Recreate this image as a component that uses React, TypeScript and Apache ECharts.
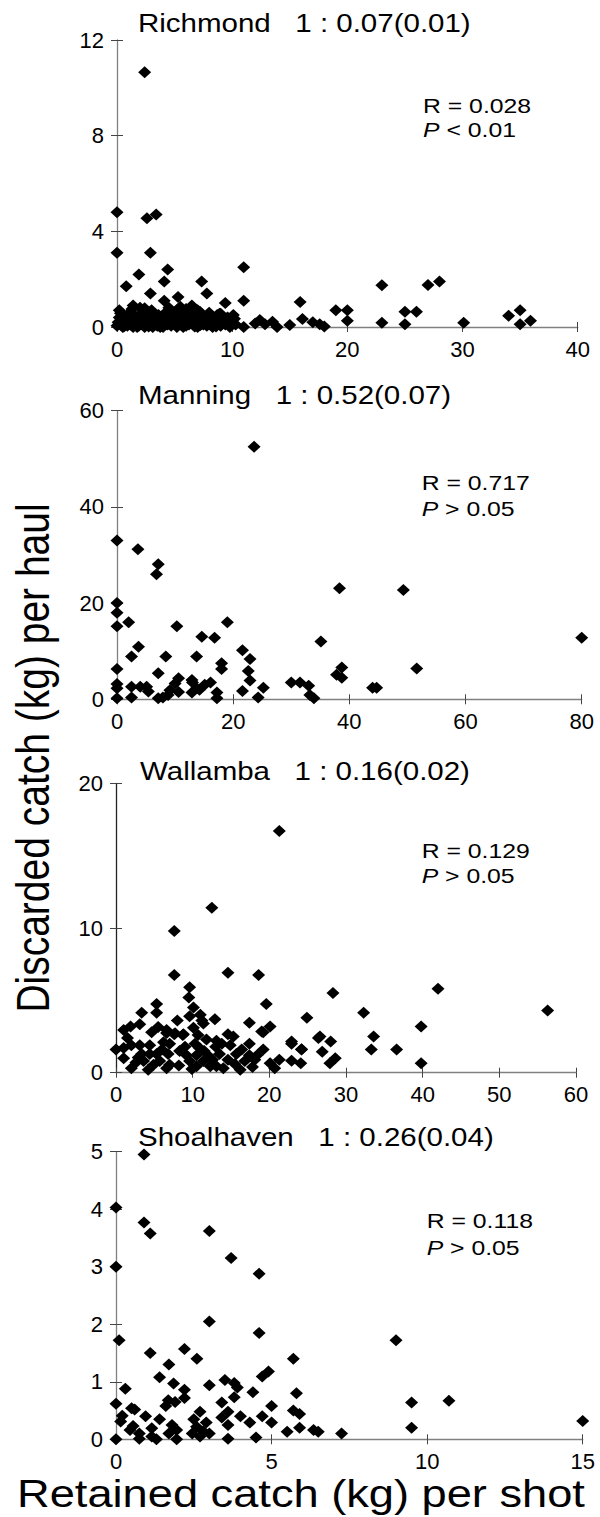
import React, { useEffect, useRef } from "react";
import * as echarts from "echarts";

const FONT = "'Liberation Sans', Arial, Helvetica, sans-serif";

// ---------- DATA ----------
const richmondPoints: number[][] = [
  [2.4, 10.65], [0, 4.8], [0, 3.1], [2.6, 4.55], [3.4, 4.7], [2.9, 3.1], [4.4, 2.4], [1.9, 2.2],
  [0.8, 1.7], [4.1, 1.9], [2.9, 1.4], [4.1, 1.1], [5.3, 1.25], [7.35, 1.9], [7.8, 1.4], [1.4, 0.9],
  [6.5, 0.9], [9.4, 1.0], [10.1, 0.5], [11.0, 2.5], [11.0, 1.1], [11.0, 0.0], [15.9, 1.05], [16.1, 0.33],
  [15.0, 0.08], [17.0, 0.2], [17.6, 0.12], [18.0, 0.02], [19.0, 0.7], [20.0, 0.7], [20.0, 0.26],
  [23.0, 1.75], [23.0, 0.18], [25.0, 0.12], [25.0, 0.64], [26.0, 0.64], [27.0, 1.76], [28.0, 1.9],
  [30.1, 0.18], [34.0, 0.47], [35.0, 0.7], [35.0, 0.12], [35.9, 0.26], [12.0, 0.15], [12.4, 0.29],
  [12.85, 0.12], [13.5, 0.22], [13.9, 0.0], [2.4, 0.78], [5.3, 0.74], [0.3, 0.57], [7.2, 0.64], [8.9, 0.55],
  [0.0, 0.05], [0.1, 0.2], [0.2, 0.4], [0.3, 0.1], [0.4, 0.3], [0.5, 0.0], [0.6, 0.15], [0.7, 0.45],
  [0.8, 0.25], [0.9, 0.05], [1.0, 0.35], [1.1, 0.6], [1.2, 0.1], [1.3, 0.2], [1.4, 0.0], [1.5, 0.5],
  [1.6, 0.3], [1.7, 0.15], [1.8, 0.4], [1.9, 0.05], [2.0, 0.25], [2.1, 0.55], [2.2, 0.1], [2.3, 0.35],
  [2.4, 0.0], [2.5, 0.2], [2.6, 0.45], [2.7, 0.3], [2.8, 0.1], [2.9, 0.6], [3.0, 0.2], [3.1, 0.0],
  [3.2, 0.4], [3.3, 0.15], [3.4, 0.3], [3.5, 0.05], [3.6, 0.5], [3.7, 0.25], [3.8, 0.1], [3.9, 0.4],
  [4.0, 0.0], [4.1, 0.2], [4.2, 0.6], [4.3, 0.3], [4.4, 0.1], [4.5, 0.45], [4.6, 0.2], [4.7, 0.05],
  [4.8, 0.35], [4.9, 0.15], [5.0, 0.55], [5.1, 0.25], [5.2, 0.0], [5.3, 0.4], [5.5, 0.1], [5.6, 0.3],
  [5.8, 0.5], [5.9, 0.15], [6.0, 0.05], [6.2, 0.35], [6.3, 0.2], [6.5, 0.6], [6.6, 0.1], [6.8, 0.3],
  [7.0, 0.0], [7.1, 0.45], [7.3, 0.2], [7.5, 0.1], [7.6, 0.35], [7.8, 0.05], [8.0, 0.25], [8.2, 0.4],
  [8.3, 0.0], [8.5, 0.15], [8.7, 0.5], [8.9, 0.2], [9.0, 0.05], [9.2, 0.3], [9.4, 0.1], [9.6, 0.4],
  [9.8, 0.0], [10.0, 0.2], [10.3, 0.1], [0.2, 0.7], [1.3, 0.75], [3.0, 0.7], [4.5, 0.8], [6.0, 0.75],
  [7.0, 0.7], [8.0, 0.6], [9.0, 0.55], [2.0, 0.8], [5.5, 0.85], [0.6, 0.02], [1.05, 0.12], [1.75, 0.0],
  [2.25, 0.18], [2.75, 0.02], [3.25, 0.08], [3.75, 0.0], [4.25, 0.12], [4.75, 0.2], [5.25, 0.08],
  [5.75, 0.0], [6.25, 0.1], [6.75, 0.02], [7.25, 0.08], [7.75, 0.2], [8.1, 0.1], [8.6, 0.02], [9.1, 0.15],
  [9.7, 0.22], [10.2, 0.35],
];

const manningPoints: number[][] = [
  [23.6, 52.5], [0, 33.0], [3.6, 31.2], [7.1, 28.1], [6.8, 26.0], [38.3, 23.1], [49.3, 22.7],
  [0, 20.0], [0, 18.0], [0, 15.2], [2.0, 16.0], [10.3, 15.2], [19.0, 16.0], [14.6, 13.0], [16.8, 12.8],
  [35.1, 12.0], [80.0, 12.8], [3.7, 10.9], [2.5, 8.9], [8.4, 8.9], [13.7, 8.9], [21.6, 10.2], [22.9, 8.4],
  [18.0, 7.5], [18.0, 6.3], [22.6, 5.9], [0, 6.3], [7.1, 5.4], [10.6, 4.4], [10.0, 3.3], [12.9, 4.0],
  [0, 3.2], [0, 2.3], [0, 0.2], [2.5, 2.6], [4.0, 2.6], [5.1, 2.6], [5.4, 1.6], [2.5, 0.4], [7.1, 0.2],
  [7.9, 0.4], [8.8, 0.9], [9.1, 1.9], [10.6, 1.5], [12.9, 1.4], [13.0, 3.5], [13.7, 2.3], [14.2, 2.0],
  [15.1, 3.0], [16.1, 3.5], [17.2, 1.4], [17.2, 0.2], [21.6, 1.7], [22.9, 3.9], [24.3, 0.4], [25.2, 2.4],
  [30.0, 3.5], [31.5, 3.5], [33.0, 2.8], [33.2, 0.9], [33.9, 0.2], [37.8, 5.1], [38.7, 6.6], [38.7, 4.5],
  [44.0, 2.4], [44.7, 2.4], [51.6, 6.4],
];

const wallambaPoints: number[][] = [
  [21.3, 16.7], [12.5, 11.4], [7.6, 9.8], [7.6, 6.75], [14.6, 6.9], [18.6, 6.75], [42.0, 5.8], [28.3, 5.5],
  [56.3, 4.3], [9.6, 5.9], [9.5, 5.2], [10.1, 4.5], [5.3, 4.75], [5.3, 4.15], [3.35, 4.15], [19.6, 4.75],
  [9.6, 3.9], [11.0, 4.0], [11.4, 3.4], [12.9, 3.7], [17.4, 3.45], [24.9, 3.8], [32.3, 4.15], [39.8, 3.2],
  [33.6, 2.5], [33.3, 1.6], [36.6, 1.6], [39.8, 0.65], [26.6, 2.5], [28.0, 2.15], [26.9, 1.45], [28.6, 1.0],
  [27.9, 0.65], [22.9, 2.0], [24.2, 1.6], [22.9, 0.83], [24.1, 0.65], [21.3, 0.9], [20.7, 0.3], [20.1, 3.2],
  [19.2, 2.8], [19.2, 1.6], [17.4, 2.0], [15.3, 2.5], [14.6, 2.65], [13.1, 2.2], [13.8, 2.0], [13.0, 1.8],
  [10.7, 2.6], [10.3, 2.0], [8.8, 2.65], [7.6, 2.65], [6.6, 2.75], [5.5, 3.15], [4.65, 2.8], [3.1, 3.35],
  [1.9, 3.2], [1.0, 2.95], [0, 1.6], [1.0, 1.7], [1.0, 1.0], [2.0, 1.9], [2.0, 0.3], [3.1, 1.9], [3.35, 1.3],
  [3.6, 0.8], [4.2, 0.2], [4.4, 1.9], [5.3, 1.3], [5.7, 0.8], [6.6, 0.3], [7.0, 2.0], [6.8, 1.3], [7.0, 0.55],
  [9.0, 1.8], [9.2, 1.2], [9.6, 0.8], [10.5, 0.45], [10.5, 1.2], [11.4, 0.8], [12.3, 0.45], [13.1, 0.45],
  [14.0, 0.3], [14.6, 0.9], [15.7, 1.3], [16.2, 0.2], [16.8, 0.8], [17.4, 1.2], [18.1, 0.9], [18.4, 1.2],
  [20.1, 0.65], [4.4, 1.3], [11.2, 3.6], [19.0, 2.85], [6.6, 2.95], [7.7, 2.72], [8.7, 2.6], [22.9, 2.15],
  [24.2, 1.62], [26.4, 2.4], [11.5, 1.5], [12.2, 1.1], [8.2, 0.5], [2.6, 0.7], [1.5, 2.4], [6.0, 1.6],
  [2.9, 1.05], [4.9, 0.55], [6.2, 2.1], [8.3, 1.5], [9.9, 0.25], [10.9, 1.7], [11.8, 2.3], [12.6, 0.9],
  [13.5, 1.3], [14.9, 1.9], [15.5, 0.6], [16.4, 1.6], [17.8, 0.4], [8.0, 3.6], [10.1, 3.1],
];

const shoalhavenPoints: number[][] = [
  [0.9, 4.95], [0, 4.03], [0.9, 3.77], [1.1, 3.58], [3.0, 3.62], [3.7, 3.15], [0, 3.0], [4.6, 2.88],
  [3.0, 2.05], [0.1, 1.72], [4.6, 1.85], [9.0, 1.72], [1.1, 1.5], [2.2, 1.57], [2.6, 1.4], [5.7, 1.4],
  [1.7, 1.3], [4.9, 1.18], [4.7, 1.09], [1.4, 1.08], [3.5, 1.03], [3.8, 0.98], [3.9, 0.9], [3.0, 0.94],
  [1.85, 0.97], [0.3, 0.88], [2.2, 0.86], [2.2, 0.72], [1.9, 0.65], [1.68, 0.68], [1.6, 0.58], [3.8, 0.73],
  [4.4, 0.82], [5.8, 0.8], [3.4, 0.64], [0, 0.62], [9.5, 0.64], [10.7, 0.67], [5.0, 0.58], [0.5, 0.54],
  [0.6, 0.52], [2.7, 0.48], [3.6, 0.48], [5.7, 0.5], [5.9, 0.44], [0.2, 0.41], [0.95, 0.4], [4.0, 0.4],
  [4.7, 0.4], [3.4, 0.38], [0.15, 0.31], [1.4, 0.35], [2.5, 0.35], [2.9, 0.29], [4.3, 0.29], [5.0, 0.29],
  [15.0, 0.32], [3.6, 0.25], [0.55, 0.23], [0.45, 0.16], [1.8, 0.25], [1.95, 0.16], [1.15, 0.19],
  [2.59, 0.22], [2.8, 0.14], [5.9, 0.2], [9.5, 0.2], [5.5, 0.13], [6.35, 0.16], [6.5, 0.13], [7.25, 0.1],
  [0.75, 0.1], [0.75, 0.01], [1.15, 0.05], [1.3, 0.0], [1.7, 0.1], [1.95, 0.0], [2.45, 0.1], [2.7, 0.05],
  [3.0, 0.1], [0, 0.0], [3.6, 0.01], [4.5, 0.03],
];

const panelNames = ["Richmond", "Manning", "Wallamba", "Shoalhaven"];
const ratioTexts = ["1 : 0.07(0.01)", "1 : 0.52(0.07)", "1 : 0.16(0.02)", "1 : 0.26(0.04)"];
const rTexts = ["R = 0.028", "R = 0.717", "R = 0.129", "R = 0.118"];
const pTexts = [" < 0.01", " > 0.05", " > 0.05", " > 0.05"];
const xMaxes = [40, 80, 60, 15];
const xIntervals = [10, 20, 10, 5];
const yMaxes = [12, 60, 20, 5];
const yIntervals = [4, 20, 10, 1];
const panelData = [richmondPoints, manningPoints, wallambaPoints, shoalhavenPoints];
const xAxisTitle = "Retained catch (kg) per shot";
const yAxisTitle = "Discarded catch (kg) per haul";

// ---------- LAYOUT ----------
const gridBoxes = [
  { left: 117, top: 40, width: 460.7, height: 287 },
  { left: 117, top: 410.7, width: 464.7, height: 288.6 },
  { left: 116, top: 783.3, width: 460, height: 289.4 },
  { left: 116, top: 1151.7, width: 466.7, height: 287.6 },
];
const titleY = [23.7, 395.8, 771.3, 1137.5];
const titleX = [138, 138, 140, 138];
const rY = [105.8, 483, 851, 1221];
const pY = [129.5, 509, 875.5, 1247.5];
const rX = [423, 421.7, 421.7, 426.7];
const yAxisColors = ["#808080", "#808080", "#222", "#808080"];

export default function App() {
  const ref = useRef<HTMLDivElement>(null);
  useEffect(() => {
    if (!ref.current) return;
    const chart = echarts.init(ref.current, null, { renderer: "svg" });

    const grids: any[] = [];
    const xAxes: any[] = [];
    const yAxes: any[] = [];
    const series: any[] = [];
    const graphics: any[] = [];

    for (let i = 0; i < 4; i++) {
      const g = gridBoxes[i];
      grids.push({ left: g.left, top: g.top, width: g.width, height: g.height, outerBoundsMode: "none", containLabel: false });
      const xBase = {
        type: "value",
        gridIndex: i,
        min: 0,
        max: xMaxes[i],
        interval: xIntervals[i],
        position: "bottom",
        splitLine: { show: false },
      };
      const yBase = {
        type: "value",
        gridIndex: i,
        min: 0,
        max: yMaxes[i],
        interval: yIntervals[i],
        position: "left",
        splitLine: { show: false },
      };
      xAxes.push({
        ...xBase,
        axisLine: { show: true, onZero: false, lineStyle: { color: "#808080", width: 1.3 } },
        axisTick: { show: true, inside: false, length: 5, lineStyle: { color: "#444", width: 1 } },
        axisLabel: { color: "#000", fontSize: 22, fontFamily: FONT, margin: 11 },
      });
      yAxes.push({
        ...yBase,
        axisLine: { show: true, onZero: false, lineStyle: { color: yAxisColors[i], width: 1.3 } },
        axisTick: { show: true, inside: false, length: 6, lineStyle: { color: "#444", width: 1 } },
        axisLabel: { color: "#000", fontSize: 22, fontFamily: FONT, margin: 13 },
      });
      series.push({
        type: "scatter",
        xAxisIndex: xAxes.length - 1,
        yAxisIndex: yAxes.length - 1,
        data: panelData[i],
        symbol: "diamond",
        symbolSize: [13, 12],
        itemStyle: { color: "#000", opacity: 1 },
        clip: false,
        z: 5,
      });
      xAxes.push({
        ...xBase,
        axisLine: { show: false, onZero: false },
        axisTick: { show: true, inside: true, length: 5, lineStyle: { color: "#444", width: 1 } },
        axisLabel: { show: false },
      });
      yAxes.push({
        ...yBase,
        axisLine: { show: false, onZero: false },
        axisTick: { show: true, inside: true, length: 6, lineStyle: { color: "#444", width: 1 } },
        axisLabel: { show: false },
      });

      graphics.push({
        type: "text",
        x: titleX[i],
        y: titleY[i],
        scaleX: 1.18,
        style: {
          text: panelNames[i] + "   " + ratioTexts[i],
          fontSize: 25,
          fontFamily: FONT,
          fill: "#000",
          align: "left",
          verticalAlign: "middle",
        },
      });
      graphics.push({
        type: "text",
        x: rX[i],
        y: rY[i],
        scaleX: 1.18,
        style: {
          text: rTexts[i],
          fontSize: 21,
          fontFamily: FONT,
          fill: "#000",
          align: "left",
          verticalAlign: "middle",
        },
      });
      graphics.push({
        type: "text",
        x: rX[i],
        y: pY[i],
        scaleX: 1.18,
        style: {
          text: "{i|P}" + pTexts[i],
          fontSize: 21,
          fontFamily: FONT,
          fill: "#000",
          align: "left",
          verticalAlign: "middle",
          rich: { i: { fontStyle: "italic", fontSize: 21, fontFamily: FONT, fill: "#000" } },
        },
      });
    }

    graphics.push({
      type: "text",
      x: 33,
      y: 758,
      rotation: Math.PI / 2,
      scaleY: 1.2,
      style: {
        text: yAxisTitle,
        fontSize: 39,
        fontFamily: FONT,
        fill: "#000",
        align: "center",
        verticalAlign: "middle",
      },
    });
    graphics.push({
      type: "text",
      x: 301,
      y: 1494,
      scaleX: 1.19,
      style: {
        text: xAxisTitle,
        fontSize: 38,
        fontFamily: FONT,
        fill: "#000",
        align: "center",
        verticalAlign: "middle",
      },
    });

    chart.setOption({
      animation: false,
      backgroundColor: "#fff",
      grid: grids,
      xAxis: xAxes,
      yAxis: yAxes,
      series,
      graphic: graphics,
    });
    return () => chart.dispose();
  }, []);
  return (
    <div
      ref={ref}
      style={{ position: "absolute", left: 0, top: 0, width: 600, height: 1517, background: "#fff" }}
    />
  );
}
